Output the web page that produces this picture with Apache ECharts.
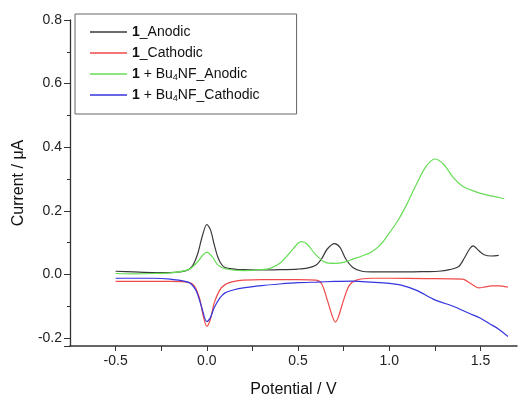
<!DOCTYPE html>
<html>
<head>
<meta charset="utf-8">
<script src="https://cdn.jsdelivr.net/npm/echarts@6/dist/echarts.min.js"></script>
<style>html,body{margin:0;padding:0;background:#fff;}#c{width:518px;height:403px;}</style>
</head>
<body>
<div id="c"></div>
<script>
var seriesNames = ['1_Anodic', '1_Cathodic', '1 + Bu4NF_Anodic', '1 + Bu4NF_Cathodic'];
var xTickLabels = ['-0.5', '0.0', '0.5', '1.0', '1.5'];
var yTickLabels = ['-0.2', '0.0', '0.2', '0.4', '0.6', '0.8'];

var anodicV = [-0.5,-0.4,-0.3,-0.2,-0.15,-0.1,-0.075,-0.05,-0.025,0.0,0.02,0.04,0.06,0.08,0.1,0.15,0.2,0.3,0.4,0.5,0.55,0.6,0.63,0.66,0.7,0.73,0.76,0.8,0.85,0.9,1.0,1.1,1.2,1.27,1.33,1.38,1.41,1.44,1.46,1.49,1.52,1.56,1.6];
var anodicI = [0.010,0.008,0.006,0.006,0.008,0.015,0.030,0.065,0.120,0.157,0.140,0.095,0.055,0.032,0.022,0.017,0.015,0.014,0.015,0.017,0.020,0.030,0.050,0.080,0.097,0.085,0.050,0.022,0.010,0.008,0.008,0.008,0.009,0.010,0.015,0.025,0.050,0.080,0.090,0.075,0.062,0.058,0.060];

var cathodicV = [-0.5,-0.3,-0.2,-0.1,-0.07,-0.04,-0.02,0.0,0.02,0.04,0.07,0.1,0.15,0.2,0.3,0.5,0.6,0.63,0.66,0.69,0.705,0.72,0.75,0.78,0.82,0.9,1.0,1.2,1.4,1.45,1.49,1.52,1.56,1.6,1.65];
var cathodicI = [-0.022,-0.022,-0.022,-0.025,-0.035,-0.075,-0.130,-0.163,-0.140,-0.090,-0.050,-0.032,-0.022,-0.018,-0.016,-0.016,-0.018,-0.030,-0.080,-0.135,-0.150,-0.135,-0.080,-0.035,-0.018,-0.012,-0.012,-0.013,-0.015,-0.030,-0.042,-0.040,-0.036,-0.036,-0.040];

var fAnodicV = [-0.5,-0.4,-0.3,-0.2,-0.1,-0.05,-0.02,0.0,0.03,0.06,0.1,0.2,0.3,0.35,0.4,0.45,0.5,0.52,0.55,0.6,0.65,0.7,0.75,0.8,0.85,0.9,0.95,1.0,1.05,1.1,1.15,1.2,1.25,1.3,1.35,1.4,1.45,1.5,1.55,1.6,1.63];
var fAnodicI = [0.003,0.002,0.003,0.005,0.015,0.040,0.062,0.070,0.055,0.030,0.018,0.012,0.015,0.020,0.035,0.065,0.098,0.103,0.095,0.060,0.038,0.035,0.038,0.048,0.058,0.070,0.092,0.130,0.172,0.225,0.285,0.338,0.363,0.345,0.305,0.278,0.265,0.255,0.248,0.242,0.238];

var fCathodicV = [-0.5,-0.3,-0.2,-0.1,-0.06,-0.03,0.0,0.02,0.04,0.07,0.1,0.15,0.2,0.3,0.4,0.5,0.6,0.7,0.8,0.9,1.0,1.075,1.15,1.25,1.35,1.44,1.5,1.55,1.6,1.65];
var fCathodicI = [-0.012,-0.012,-0.015,-0.025,-0.050,-0.100,-0.148,-0.135,-0.105,-0.075,-0.058,-0.048,-0.042,-0.035,-0.030,-0.026,-0.024,-0.022,-0.021,-0.024,-0.028,-0.035,-0.050,-0.080,-0.100,-0.123,-0.138,-0.155,-0.172,-0.195];

function pairs(xs, ys) { return xs.map(function (x, i) { return [x, ys[i]]; }); }

var colors = ['#3a3a3a', '#ef4a4a', '#66dd55', '#3535dd'];
var legendText = {
  '1_Anodic': '{b|1}_Anodic',
  '1_Cathodic': '{b|1}_Cathodic',
  '1 + Bu4NF_Anodic': '{b|1} + Bu{s|4}NF_Anodic',
  '1 + Bu4NF_Cathodic': '{b|1} + Bu{s|4}NF_Cathodic'
};
var datasets = [pairs(anodicV, anodicI), pairs(cathodicV, cathodicI), pairs(fAnodicV, fAnodicI), pairs(fCathodicV, fCathodicI)];

function near(v, arr) {
  for (var i = 0; i < arr.length; i++) { if (Math.abs(parseFloat(arr[i]) - v) < 1e-6) return arr[i]; }
  return '';
}

var chart = echarts.init(document.getElementById('c'), null, {renderer: 'canvas'});
chart.setOption({
  animation: false,
  backgroundColor: '#fff',
  color: colors,
  textStyle: {fontFamily: 'Liberation Sans, Arial, sans-serif'},
  grid: {left: 70, right: 1, top: 20, bottom: 53, containLabel: false},
  legend: {
    orient: 'vertical', left: 75, top: 14,
    padding: [10, 37, 11, 15],
    borderColor: '#666', borderWidth: 1,
    icon: 'rect',
    itemWidth: 37, itemHeight: 1.5, itemGap: 5,
    data: seriesNames,
    formatter: function (n) { return legendText[n]; },
    textStyle: {
      fontSize: 14, color: '#111', lineHeight: 16,
      rich: {
        b: {fontSize: 14, fontWeight: 'bold', color: '#111', lineHeight: 16},
        s: {fontSize: 9, color: '#111', verticalAlign: 'bottom', lineHeight: 8}
      }
    }
  },
  xAxis: {
    type: 'value', min: -0.75, max: 1.7, interval: 0.25,
    name: 'Potential / V', nameLocation: 'middle', nameGap: 36,
    nameTextStyle: {fontSize: 16, color: '#111'},
    axisLine: {onZero: false, lineStyle: {color: '#333', width: 1.5}},
    axisTick: {show: true, inside: false, length: 5, lineStyle: {color: '#333'}},
    axisLabel: {fontSize: 14, color: '#222', margin: 8, showMinLabel: false, showMaxLabel: false,
      formatter: function (v) { return near(v, xTickLabels); }},
    splitLine: {show: false}
  },
  yAxis: {
    type: 'value', min: -0.225, max: 0.8, minInterval: 0.2, maxInterval: 0.2,
    name: 'Current / \u03bcA', nameLocation: 'middle', nameGap: 41,
    nameTextStyle: {fontSize: 16, color: '#111'},
    axisLine: {show: true, onZero: false, lineStyle: {color: '#333', width: 1.3}},
    axisTick: {show: true, inside: false, length: 6, lineStyle: {color: '#333'}},
    minorTick: {show: true, splitNumber: 2, length: 3, lineStyle: {color: '#333'}},
    axisLabel: {fontSize: 14, color: '#222', margin: 8, showMinLabel: false,
      formatter: function (v) { return near(v, yTickLabels); }},
    splitLine: {show: false}
  },
  series: seriesNames.map(function (n, i) {
    return {
      name: n, type: 'line', data: datasets[i], symbol: 'none', smooth: 0.3,
      lineStyle: {width: 1.2, color: colors[i]}, itemStyle: {color: colors[i]}
    };
  })
});
</script>
</body>
</html>
